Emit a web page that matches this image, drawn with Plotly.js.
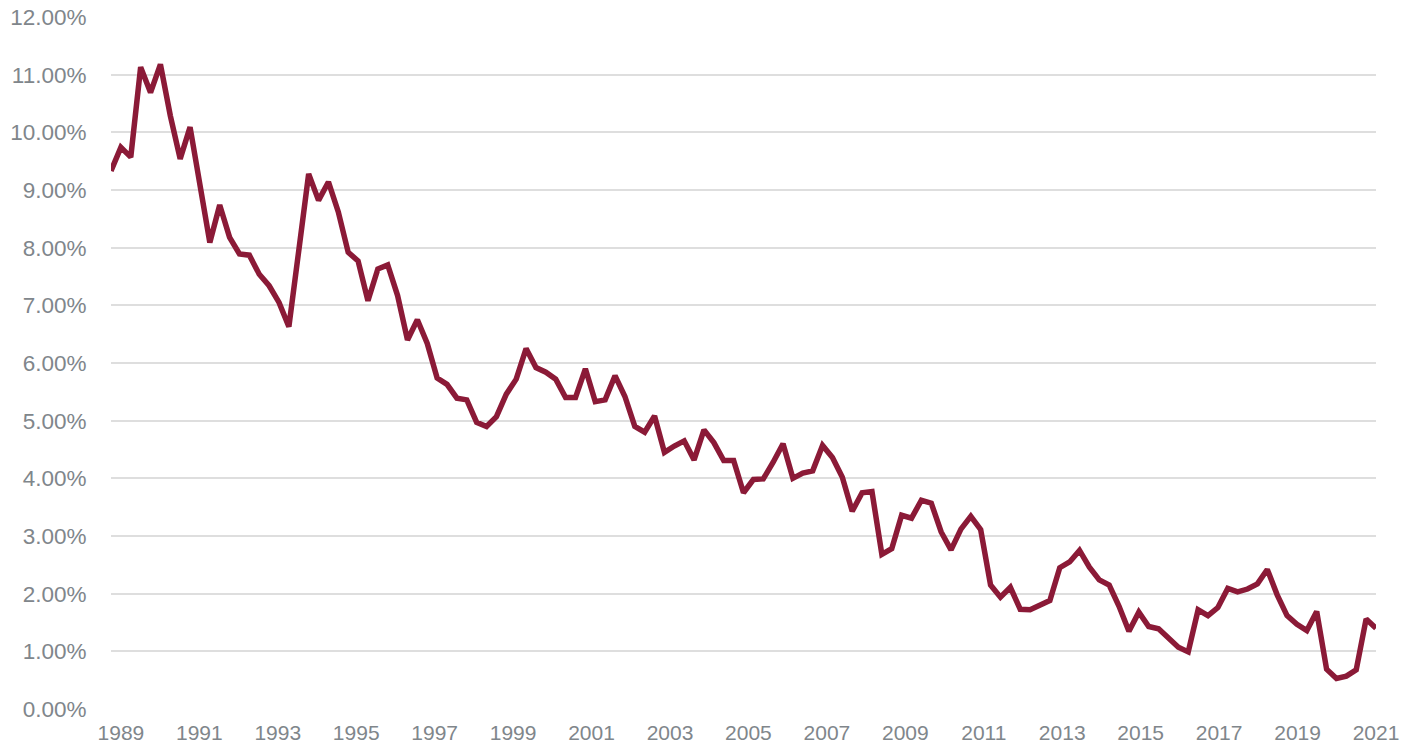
<!DOCTYPE html>
<html>
<head>
<meta charset="utf-8">
<script src="https://cdn.plot.ly/plotly-3.0.1.min.js"></script>
<style>
  html, body { margin: 0; padding: 0; background: #ffffff; }
  #chart { width: 1403px; height: 746px; }
</style>
</head>
<body>
<div id="chart"></div>
<script>
// Quarterly series (values in percent)
const rates = [
  9.33, 9.74, 9.57, 11.13, 10.69, 11.18, 10.29, 9.54, 10.09, 9.10,
  8.09, 8.74, 8.18, 7.89, 7.87, 7.54, 7.34, 7.05, 6.63, 7.95,
  9.28, 8.82, 9.14, 8.62, 7.92, 7.77, 7.08, 7.63, 7.70, 7.17,
  6.40, 6.75, 6.34, 5.74, 5.63, 5.39, 5.36, 4.97, 4.90, 5.07,
  5.46, 5.72, 6.25, 5.92, 5.84, 5.72, 5.40, 5.40, 5.90, 5.33,
  5.36, 5.78, 5.42, 4.90, 4.80, 5.08, 4.45, 4.56, 4.65, 4.32,
  4.84, 4.62, 4.31, 4.31, 3.75, 3.98, 3.99, 4.28, 4.60, 4.00,
  4.09, 4.13, 4.57, 4.36, 4.02, 3.43, 3.75, 3.77, 2.68, 2.78,
  3.36, 3.31, 3.62, 3.57, 3.07, 2.76, 3.12, 3.34, 3.11, 2.15,
  1.94, 2.11, 1.73, 1.72, 1.80, 1.88, 2.45, 2.55, 2.75, 2.46,
  2.24, 2.15, 1.78, 1.35, 1.68, 1.43, 1.39, 1.24, 1.07, 0.99,
  1.72, 1.62, 1.76, 2.09, 2.03, 2.08, 2.17, 2.42, 1.98, 1.62,
  1.47, 1.36, 1.69, 0.69, 0.53, 0.57, 0.68, 1.56, 1.40
];
const yearLabels = ["1989","1991","1993","1995","1997","1999","2001","2003","2005",
                    "2007","2009","2011","2013","2015","2017","2019","2021"];
const yTickVals = [0,1,2,3,4,5,6,7,8,9,10,11,12];

const xIdx = rates.map((_, i) => i);
const last = rates.length - 1;
const firstTick = 1;
const step = (last - firstTick) / (yearLabels.length - 1);
const xTickVals = yearLabels.map((_, k) => firstTick + k * step);

const trace = {
  x: xIdx,
  y: rates,
  type: 'scatter',
  mode: 'lines',
  line: { color: '#8B1A37', width: 5.5, shape: 'linear' },
  hoverinfo: 'skip'
};

const layout = {
  width: 1403,
  height: 746,
  margin: { l: 111, r: 27, t: 17, b: 37 },
  paper_bgcolor: '#ffffff',
  plot_bgcolor: '#ffffff',
  showlegend: false,
  font: { family: 'Liberation Sans, Arial, sans-serif', color: '#80868B' },
  xaxis: {
    range: [0, last],
    tickmode: 'array',
    tickvals: xTickVals,
    ticktext: yearLabels,
    showgrid: false,
    zeroline: false,
    showline: false,
    ticks: 'outside',
    ticklen: 5,
    tickcolor: 'rgba(0,0,0,0)',
    tickfont: { size: 21, color: '#80868B' },
    fixedrange: true
  },
  yaxis: {
    range: [0, 12],
    tickmode: 'array',
    tickvals: yTickVals,
    ticktext: yTickVals.map(v => v.toFixed(2) + '%'),
    showgrid: true,
    gridcolor: '#DEDEDE',
    gridwidth: 2,
    zeroline: false,
    showline: false,
    ticks: 'outside',
    ticklen: 19,
    tickcolor: 'rgba(0,0,0,0)',
    tickfont: { size: 22.5, color: '#80868B' },
    fixedrange: true
  }
};

Plotly.newPlot('chart', [trace], layout, { displayModeBar: false, staticPlot: true });
</script>
</body>
</html>
